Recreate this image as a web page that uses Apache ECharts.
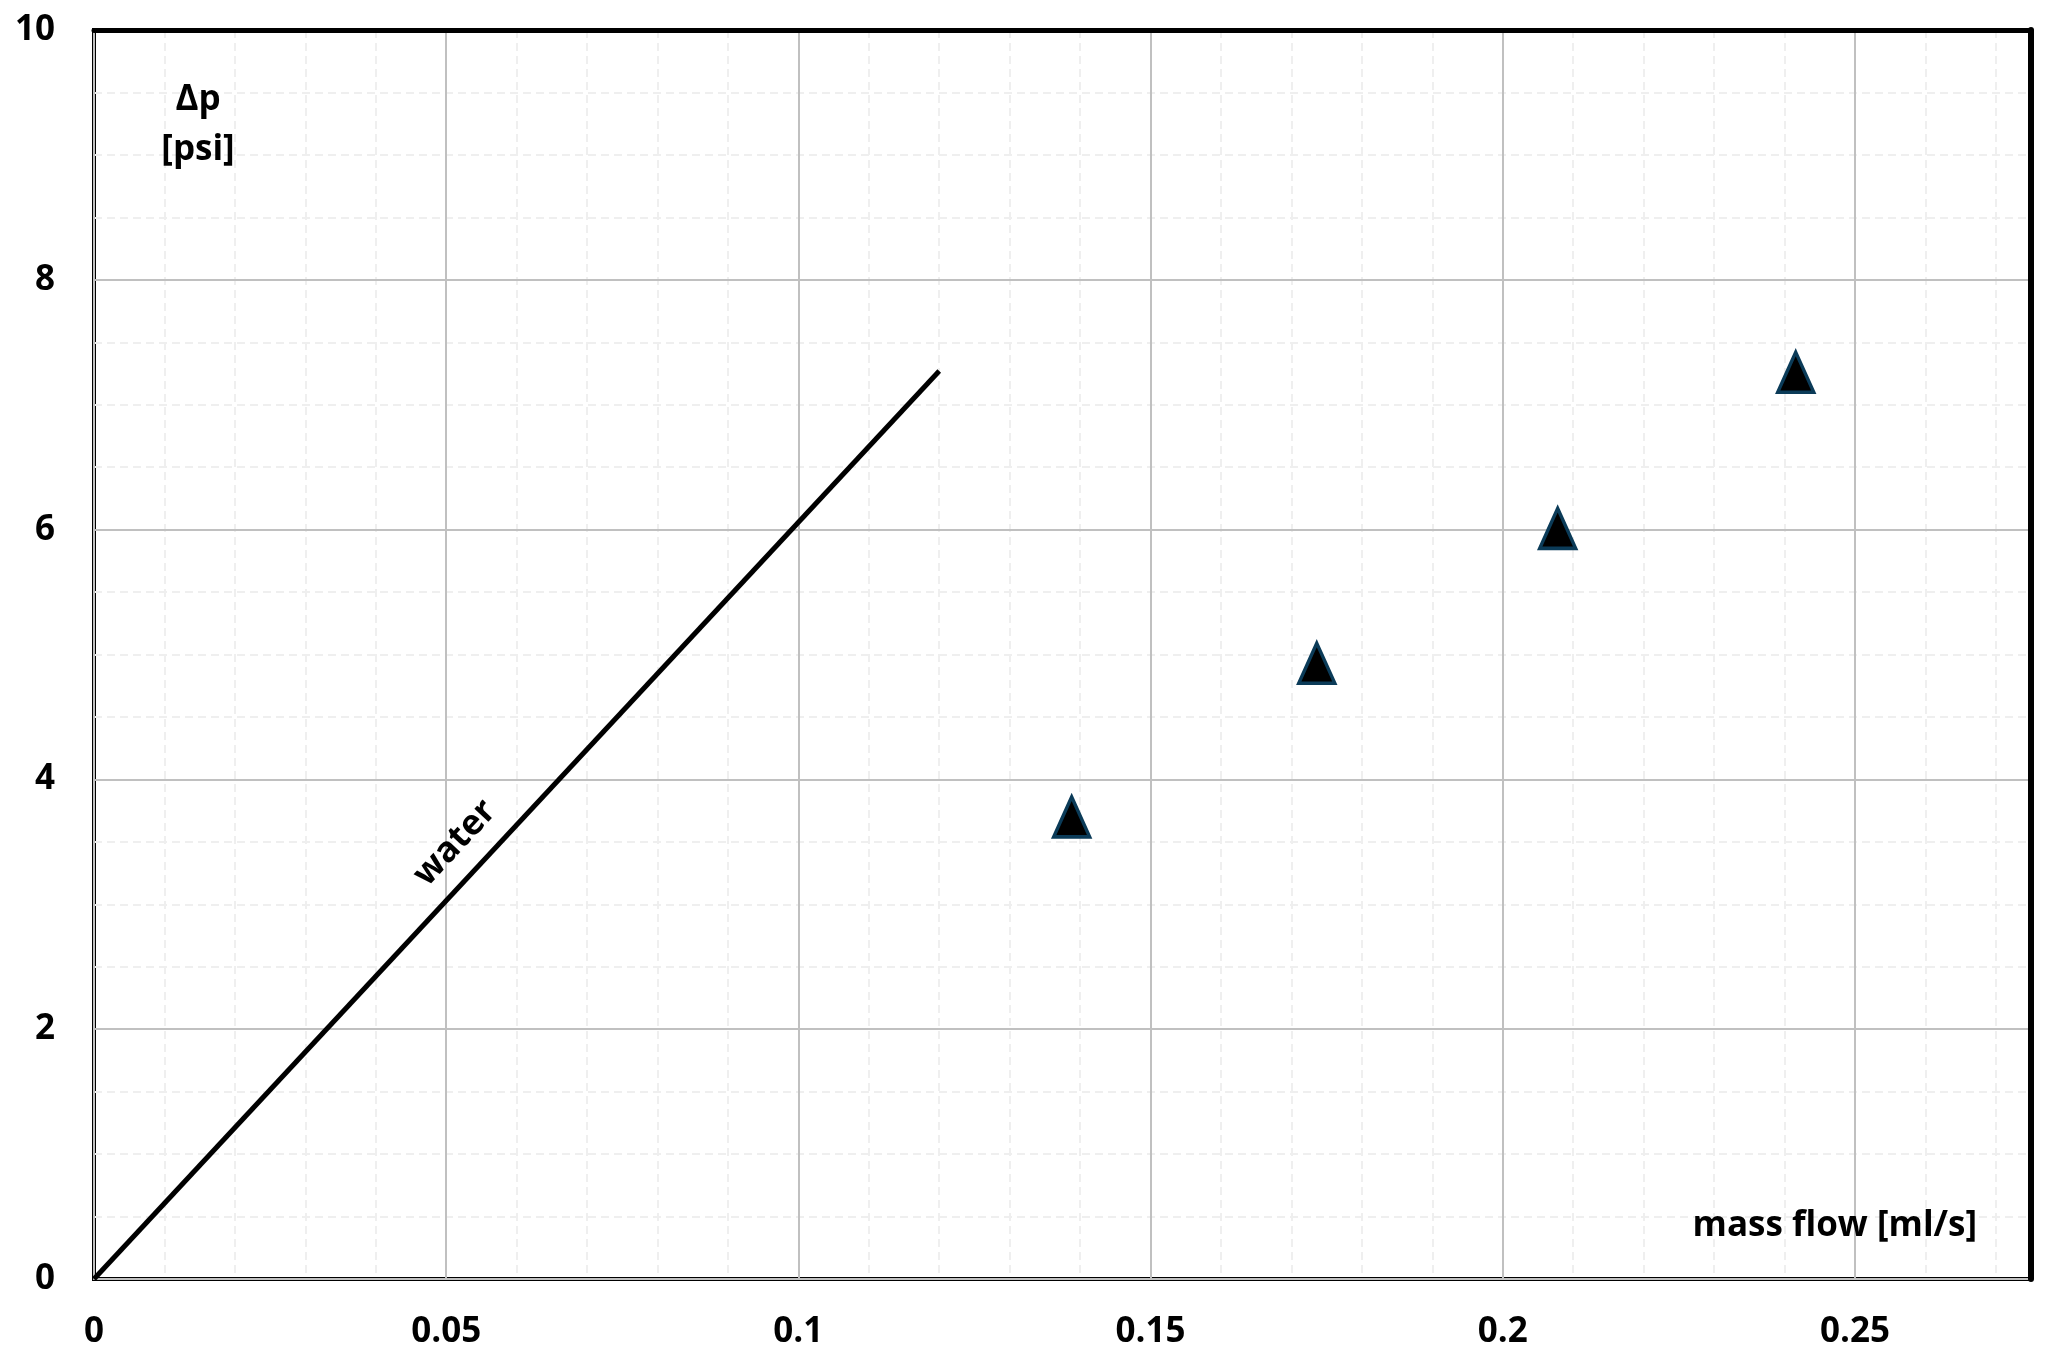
<!DOCTYPE html>
<html>
<head>
<meta charset="utf-8">
<script src="https://cdn.jsdelivr.net/npm/echarts@6/dist/echarts.min.js"></script>
<style>
html,body{margin:0;padding:0;background:#fff;}
#chart{width:2045px;height:1358px;}
</style>
</head>
<body>
<div id="chart"></div>
<script>
// ---- data ----
const waterX = [0, 0.12];
const waterY = [0, 7.27];
const sampleX = [0.1388, 0.1736, 0.2078, 0.2416];
const sampleY = [3.70, 4.93, 6.01, 7.26];
const xMin = 0, xMax = 0.275, xMajor = 0.05, xMinor = 0.01;
const yMin = 0, yMax = 10, yMajor = 2, yMinor = 0.5;
const xTitle = 'mass flow [ml/s]';
const yTitle1 = 'Δp';
const yTitle2 = '[psi]';
const lineLabel = 'water';

const FONT = '"Open Sans", "Noto Sans", sans-serif';
const FS = 35;
const labelStyle = {color: '#000', fontFamily: FONT, fontWeight: 'bold', fontSize: FS};

const chart = echarts.init(document.getElementById('chart'), null, {renderer: 'canvas'});

const option = {
  backgroundColor: '#fff',
  animation: false,
  grid: {left: 94, right: 14, top: 30, bottom: 79, show: true, borderColor: '#000', borderWidth: 4, backgroundColor: '#fff'},
  xAxis: [
    {
      type: 'value', min: xMin, max: xMax, interval: xMajor, position: 'bottom', z: 2,
      axisLine: {show: true, onZero: false, lineStyle: {color: '#c0c0c0', width: 2}},
      axisTick: {show: false},
      axisLabel: Object.assign({margin: 36, showMaxLabel: false}, labelStyle),
      splitLine: {show: true, lineStyle: {color: '#c0c0c0', width: 2}}
    },
    {
      type: 'value', min: xMin, max: xMax, interval: xMinor, position: 'bottom', z: 1,
      axisLine: {show: false}, axisTick: {show: false}, axisLabel: {show: false},
      splitLine: {show: true, lineStyle: {color: '#efefef', width: 2, type: [8, 5]}}
    },
    {
      type: 'value', min: xMin, max: xMax, position: 'top', z: 3,
      axisLine: {show: true, onZero: false, lineStyle: {color: '#000', width: 5}},
      axisTick: {show: false}, axisLabel: {show: false}, splitLine: {show: false}
    }
  ],
  yAxis: [
    {
      type: 'value', min: yMin, max: yMax, interval: yMajor, position: 'left', z: 2,
      axisLine: {show: true, onZero: false, lineStyle: {color: '#c0c0c0', width: 2}},
      axisTick: {show: false},
      axisLabel: Object.assign({margin: 39}, labelStyle),
      splitLine: {show: true, lineStyle: {color: '#c0c0c0', width: 2}}
    },
    {
      type: 'value', min: yMin, max: yMax, interval: yMinor, position: 'left', z: 1,
      axisLine: {show: false}, axisTick: {show: false}, axisLabel: {show: false},
      splitLine: {show: true, lineStyle: {color: '#efefef', width: 2, type: [8, 5]}}
    },
    {
      type: 'value', min: yMin, max: yMax, position: 'right', z: 3,
      axisLine: {show: true, onZero: false, lineStyle: {color: '#000', width: 6}},
      axisTick: {show: false}, axisLabel: {show: false}, splitLine: {show: false}
    }
  ],
  series: [
    {
      name: 'water', type: 'line', xAxisIndex: 0, yAxisIndex: 0, z: 4,
      data: waterX.map((x, i) => [x, waterY[i]]),
      showSymbol: false, symbol: 'none',
      lineStyle: {color: '#000', width: 5}
    },
    {
      name: 'samples', type: 'scatter', xAxisIndex: 0, yAxisIndex: 0, z: 5,
      data: sampleX.map((x, i) => [x, sampleY[i]]),
      symbol: 'triangle', symbolSize: [36, 40],
      itemStyle: {color: '#000', borderColor: '#0b3b58', borderWidth: 3.5, opacity: 1}
    }
  ],
  graphic: [
    {type: 'text', x: 198, y: 100, z: 10,
     style: {text: yTitle1, font: 'bold ' + FS + 'px ' + FONT, fill: '#000', textAlign: 'center', textVerticalAlign: 'middle'}},
    {type: 'text', x: 198, y: 150, z: 10,
     style: {text: yTitle2, font: 'bold ' + FS + 'px ' + FONT, fill: '#000', textAlign: 'center', textVerticalAlign: 'middle'}},
    {type: 'text', x: 1977, y: 1226, z: 10,
     style: {text: xTitle, font: 'bold ' + FS + 'px ' + FONT, fill: '#000', textAlign: 'right', textVerticalAlign: 'middle'}},
    {type: 'text', x: 455, y: 843, z: 10, rotation: 47 * Math.PI / 180,
     style: {text: lineLabel, font: 'bold ' + FS + 'px ' + FONT, fill: '#000', textAlign: 'center', textVerticalAlign: 'middle'}}
  ]
};
chart.setOption(option);
</script>
</body>
</html>
